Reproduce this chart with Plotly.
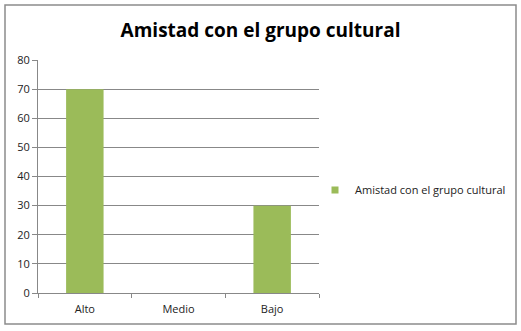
import plotly.graph_objects as go

categories = ["Alto", "Medio", "Bajo"]
values = [70, 0, 30]
series_name = "Amistad con el grupo cultural"
title_text = "Amistad con el grupo cultural"

W, H = 521, 331
L, R, T, B = 38, 319, 60, 293
PR = 516  # right edge of paper area

def px_x(p):
    return (p - L) / (PR - L)

def px_y(p):
    return (B - p) / (B - T)

fig = go.Figure()
fig.add_trace(go.Bar(x=categories, y=values, name=series_name,
                     marker=dict(color="#9BBB59", line=dict(width=0)),
                     showlegend=False, hoverinfo="skip"))
fig.add_trace(go.Scatter(x=[None], y=[None], mode="markers", name=series_name,
                         marker=dict(symbol="square", size=7, color="#9BBB59"),
                         showlegend=True))

font_family = "Open Sans, Noto Sans, sans-serif"
fig.update_layout(
    width=W, height=H,
    margin=dict(l=L, r=W - PR, t=T, b=H - B, pad=0, autoexpand=False),
    paper_bgcolor="white", plot_bgcolor="white",
    bargap=0.6,
    title=dict(text="<b>" + title_text + "</b>", x=0.5, xref="container", xanchor="center",
               y=1 - 30 / H, yanchor="middle",
               font=dict(family=font_family, size=19, color="black")),
    showlegend=True,
    legend=dict(x=px_x(315), y=px_y(190), xanchor="left", yanchor="middle",
                font=dict(family=font_family, size=11, color="#222"),
                itemwidth=30, bgcolor="rgba(0,0,0,0)"),
    xaxis=dict(domain=[0, px_x(R)], showline=True, linecolor="#888", linewidth=1,
               ticks="outside", ticklen=4, tickcolor="#888", tickson="boundaries",
               ticklabelstandoff=6,
               tickfont=dict(family=font_family, size=11, color="#222"),
               showgrid=False, fixedrange=True, automargin=False),
    yaxis=dict(range=[0, 80], dtick=10, showline=True, linecolor="#888", linewidth=1,
               ticks="outside", ticklen=5, tickcolor="#888",
               gridcolor="#888", gridwidth=1, zeroline=False, automargin=False,
               fixedrange=True,
               tickfont=dict(family=font_family, size=11, color="#222")),
)

fig.add_shape(type="rect", xref="paper", yref="paper",
              x0=px_x(5), x1=px_x(516), y0=px_y(324), y1=px_y(5),
              line=dict(color="#8c8c8c", width=1.5), fillcolor="rgba(0,0,0,0)",
              layer="below")

fig.write_html("out.html", config={"displayModeBar": False},
               post_script="document.body.style.margin='0';document.body.style.overflow='hidden';")
